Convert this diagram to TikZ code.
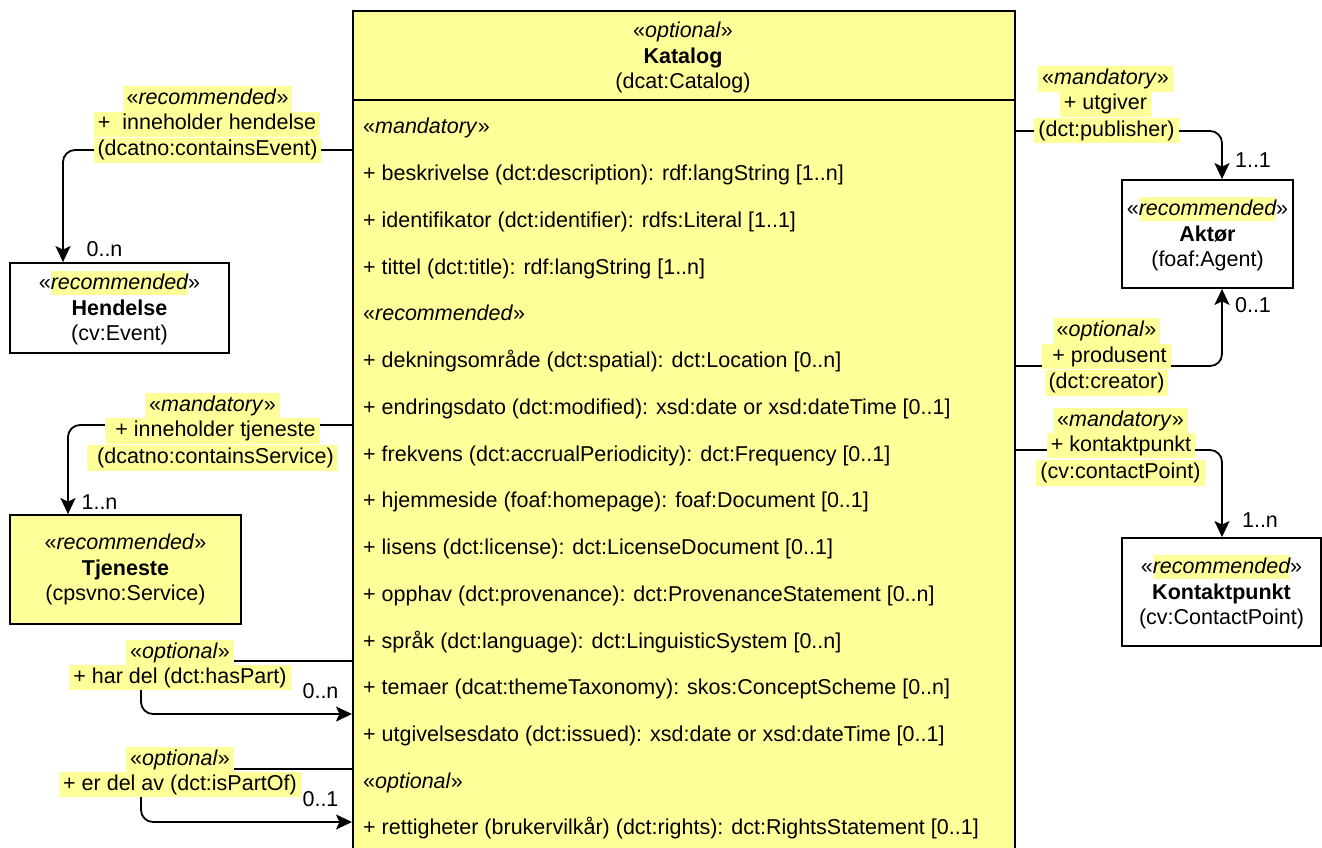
\documentclass[tikz,border=0pt]{standalone}
\usepackage{fontspec}
\setmainfont{Liberation Sans}
\usetikzlibrary{arrows.meta}
\definecolor{hl}{HTML}{FFFF99}
\newcommand\dfont{\fontsize{21.5pt}{25.5pt}\selectfont}
\newcommand\hlw[1]{{\setlength\fboxsep{0pt}\colorbox{hl}{\rule[-5pt]{0pt}{24pt}\itshape #1}}}
\newcommand\ster[1]{«\textit{#1}»}
\newcommand\sterhl[1]{«\hlw{#1}»}
\begin{document}
\begin{tikzpicture}[x=1pt,y=-1pt,
  every node/.style={font=\dfont, inner sep=0pt},
  cls/.style={draw, line width=1.8pt, align=center},
  lbl/.style={fill=hl, inner xsep=4pt, inner ysep=2.3pt, text height=16pt, text depth=5pt},
  txt/.style={text height=16pt, text depth=5pt},
  mult/.style={text height=16pt, text depth=5pt},
  conn/.style={line width=1.8pt, rounded corners=12pt},
  arr/.style={-{Stealth[length=16pt,width=15pt,inset=3.5pt]}}
]
\useasboundingbox (0,0) rectangle (1322,848);
\clip (0,0) rectangle (1322,848);

% main class
\node[cls, fill=hl, minimum width=662pt, minimum height=860pt, anchor=north west] (kat) at (352,10) {};
\coordinate (kathl) at (352,100);
\coordinate (kathr) at (1014,100);
\draw[line width=1.5pt] (kathl) -- (kathr);
\node[align=center] (kathead) at (683,57.5) {\ster{optional}\\\textbf{Katalog}\\(dcat:Catalog)};

\foreach [count=\i from 0] \t in {%
  {\ster{mandatory}},
  {+ beskrivelse (dct:description): rdf:langString [1..n]},
  {+ identifikator (dct:identifier): rdfs:Literal [1..1]},
  {+ tittel (dct:title): rdf:langString [1..n]},
  {\ster{recommended}},
  {+ dekningsområde (dct:spatial): dct:Location [0..n]},
  {+ endringsdato (dct:modified): xsd:date or xsd:dateTime [0..1]},
  {+ frekvens (dct:accrualPeriodicity): dct:Frequency [0..1]},
  {+ hjemmeside (foaf:homepage): foaf:Document [0..1]},
  {+ lisens (dct:license): dct:LicenseDocument [0..1]},
  {+ opphav (dct:provenance): dct:ProvenanceStatement [0..n]},
  {+ språk (dct:language): dct:LinguisticSystem [0..n]},
  {+ temaer (dcat:themeTaxonomy): skos:ConceptScheme [0..n]},
  {+ utgivelsesdato (dct:issued): xsd:date or xsd:dateTime [0..1]},
  {\ster{optional}},
  {+ rettigheter (brukervilkår) (dct:rights): dct:RightsStatement [0..1]}}
  { \node[txt, anchor=west] (row\i) at (363,128.5+46.73*\i) {\t}; }

% other classes
\node[cls, minimum width=219pt, minimum height=90pt] (hend) at (119.5,308) {\sterhl{recommended}\\\textbf{Hendelse}\\(cv:Event)};
\node[cls, fill=hl, minimum width=231pt, minimum height=109pt] (tjen) at (125.5,569.5) {\ster{recommended}\\\textbf{Tjeneste}\\(cpsvno:Service)};
\node[cls, minimum width=171pt, minimum height=108pt] (akt) at (1207.5,234) {\sterhl{recommended}\\\textbf{Aktør}\\(foaf:Agent)};
\node[cls, minimum width=199pt, minimum height=108pt] (kon) at (1221.5,592) {\sterhl{recommended}\\\textbf{Kontaktpunkt}\\(cv:ContactPoint)};

% connectors
\draw[conn,arr] (kat.west |- 0,150) -- (63,150) -- (63,0 |- hend.north);
\draw[conn,arr] (kat.west |- 0,425) -- (68,425) -- (68,0 |- tjen.north);
\draw[conn,arr] (kat.west |- 0,661) -- (141,661) -- (141,714) -- (kat.west |- 0,714);
\draw[conn,arr] (kat.west |- 0,769) -- (141,769) -- (141,822) -- (kat.west |- 0,822);
\draw[conn,arr] (kat.east |- 0,131) -- (1222,131) -- (1222,0 |- akt.north);
\draw[conn,arr] (kat.east |- 0,366) -- (1222,366) -- (1222,0 |- akt.south);
\draw[conn,arr] (kat.east |- 0,450) -- (1222,450) -- (1222,0 |- kon.north);

% connector labels
\node[lbl] (l1a) at (207.5,99) {\ster{recommended}};
\node[lbl] (l1b) at (207,124.5) {+\ \ inneholder hendelse};
\node[lbl] (l1c) at (207.5,150.5) {(dcatno:containsEvent)};
\node[mult] (m1) at (104.5,251) {0..n};

\node[lbl] (l2a) at (212.5,406) {\ster{mandatory}\ };
\node[lbl] (l2b) at (212.5,431) {\ + inneholder tjeneste};
\node[lbl] (l2c) at (212.5,458) {\ (dcatno:containsService)};
\node[mult] (m2) at (99.5,504) {1..n};

\node[lbl] (l3a) at (180,652.5) {\ster{optional}};
\node[lbl] (l3b) at (180,677.5) {+ har del (dct:hasPart)};
\node[mult] (m3) at (320.5,692.5) {0..n};

\node[lbl] (l4a) at (180,759.5) {\ster{optional}};
\node[lbl] (l4b) at (180,784.5) {+ er del av (dct:isPartOf)};
\node[mult] (m4) at (320.5,800.5) {0..1};

\node[lbl] (l5a) at (1105.5,79) {\ster{mandatory}};
\node[lbl] (l5b) at (1105.5,104) {+ utgiver};
\node[lbl] (l5c) at (1106.5,130.5) {(dct:publisher)};
\node[mult] (m5) at (1253,162) {1..1};

\node[lbl] (l6a) at (1106.5,331) {\ster{optional}};
\node[lbl] (l6b) at (1106.5,356.5) {\ + produsent};
\node[lbl] (l6c) at (1106.5,383) {(dct:creator)};
\node[mult] (m6) at (1253,306.5) {0..1};

\node[lbl] (l7a) at (1120.5,420.5) {\ster{mandatory}};
\node[lbl] (l7b) at (1121,445.5) {+ kontaktpunkt};
\node[lbl] (l7c) at (1120.5,473) {(cv:contactPoint)};
\node[mult] (m7) at (1260,522) {1..n};
\end{tikzpicture}
\end{document}
